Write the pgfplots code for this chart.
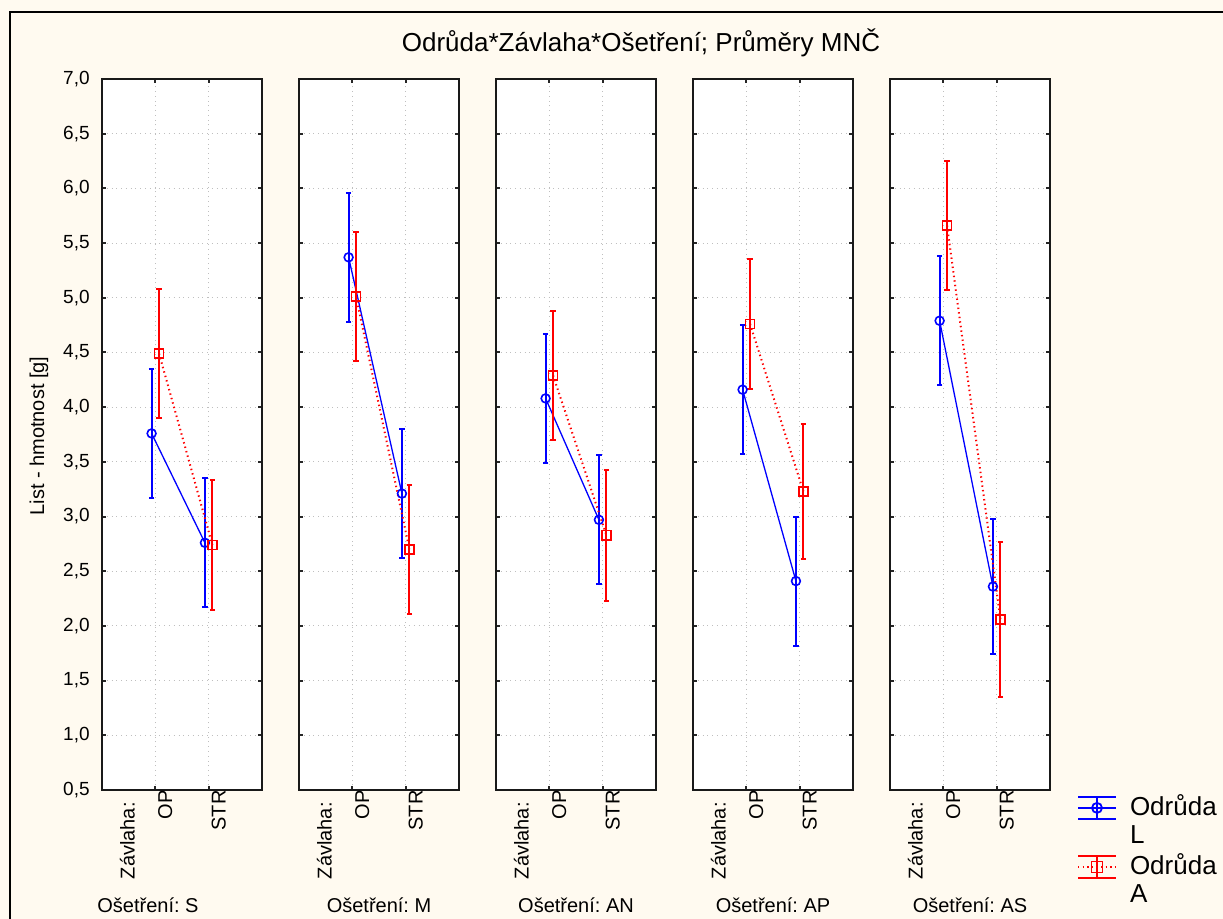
\documentclass[border=0pt]{standalone}
\usepackage{pgfplots}
\pgfplotsset{compat=1.18}
\usepackage{fontspec}
\setmainfont{Liberation Sans}
\frenchspacing
\definecolor{paper}{HTML}{FFFAF0}
\definecolor{colL}{HTML}{0000FF}
\definecolor{colA}{HTML}{FF0000}
\newcommand\fs[2]{\fontsize{#1bp}{#2bp}\selectfont}

\pgfplotsset{
  panel/.style={
    scale only axis, width=80bp, height=355.5bp,
    anchor=south west,
    xmin=0, xmax=3, ymin=0.5, ymax=7,
    xtick={1,2}, xticklabels={OP,STR},
    ytick={0.5,1.0,1.5,2.0,2.5,3.0,3.5,4.0,4.5,5.0,5.5,6.0,6.5,7.0},
    tick pos=both, xticklabel pos=lower, yticklabel pos=left,
    grid=major,
    major grid style={dotted, black!25, line width=0.5bp},
    axis line style={black!90, line width=1bp},
    every tick/.style={black!85, line width=1bp},
    major tick length=2.2bp,
    tick align=inside,
    axis background/.style={fill=white},
    xticklabel style={rotate=90, anchor=east, inner sep=0pt, yshift=-5bp, font=\fs{10}{12}},
    clip=false,
  },
  nolab/.style={yticklabels={}},
  serL/.style={colL, line width=0.65bp, mark=o, mark size=2.2bp,
    mark options={solid, line width=0.8bp},
    error bars/y dir=both, error bars/y explicit,
    error bars/error bar style={solid, line width=1bp},
    error bars/error mark options={rotate=90, solid, line width=1bp, mark size=1.4bp}},
  serA/.style={colA, line width=1bp, dash pattern=on 0.7bp off 1.6bp,
    mark=square, mark size=2.3bp,
    mark options={solid, line width=0.8bp},
    error bars/y dir=both, error bars/y explicit,
    error bars/error bar style={solid, line width=1bp},
    error bars/error mark options={rotate=90, solid, line width=1bp, mark size=1.4bp}},
}

\begin{document}
\begin{tikzpicture}
\fill[paper] (0,0) rectangle (611.5bp,459.5bp);
\useasboundingbox (0,0) rectangle (611.5bp,459.5bp);
\draw[black, line width=1bp] (5bp,0) -- (5bp,453.5bp) -- (611.5bp,453.5bp);
\node[anchor=base, font=\fs{13}{15.6}] at (320.5bp,433.5bp) {Odrůda*Závlaha*Ošetření; Průměry MNČ};
\node[rotate=90, font=\fs{10}{12}] at (19.5bp,241.5bp) {List - hmotnost [g]};

\node[anchor=base, font=\fs{10}{12}] at (74bp,3.5bp) {Ošetření: S};
\node[anchor=base, font=\fs{10}{12}] at (189.5bp,3.5bp) {Ošetření: M};
\node[anchor=base, font=\fs{10}{12}] at (288bp,3.5bp) {Ošetření: AN};
\node[anchor=base, font=\fs{10}{12}] at (386.5bp,3.5bp) {Ošetření: AP};
\node[anchor=base, font=\fs{10}{12}] at (485bp,3.5bp) {Ošetření: AS};

% panel 1: S
\begin{axis}[panel, at={(51bp,64.5bp)},
  yticklabel style={font=\fs{9.5}{11}, inner sep=0pt, xshift=-6bp,
    /pgf/number format/.cd, fixed, fixed zerofill, precision=1, use comma, assume math mode=true}]
\addplot[serL] table[x=x, y=y, y error=e] {
x y e
0.93 3.76 0.59
1.93 2.76 0.59
};
\addplot[serA] table[x=x, y=y, y error=e] {
x y e
1.07 4.49 0.59
2.07 2.74 0.59
};
\node[rotate=90, anchor=east, inner sep=0pt, font=\fs{10}{12}] at ([xshift=-14bp, yshift=-6bp]axis description cs:0.3333,0) {Závlaha:};
\end{axis}

% panel 2: M
\begin{axis}[panel, nolab, at={(149.5bp,64.5bp)}]
\addplot[serL] table[x=x, y=y, y error=e] {
x y e
0.93 5.37 0.59
1.93 3.21 0.59
};
\addplot[serA] table[x=x, y=y, y error=e] {
x y e
1.07 5.01 0.59
2.07 2.70 0.59
};
\node[rotate=90, anchor=east, inner sep=0pt, font=\fs{10}{12}] at ([xshift=-14bp, yshift=-6bp]axis description cs:0.3333,0) {Závlaha:};
\end{axis}

% panel 3: AN
\begin{axis}[panel, nolab, at={(248bp,64.5bp)}]
\addplot[serL] table[x=x, y=y, y error=e] {
x y e
0.93 4.08 0.59
1.93 2.97 0.59
};
\addplot[serA] table[x=x, y=y, y error=e] {
x y e
1.07 4.29 0.59
2.07 2.83 0.60
};
\node[rotate=90, anchor=east, inner sep=0pt, font=\fs{10}{12}] at ([xshift=-14bp, yshift=-6bp]axis description cs:0.3333,0) {Závlaha:};
\end{axis}

% panel 4: AP
\begin{axis}[panel, nolab, at={(346.5bp,64.5bp)}]
\addplot[serL] table[x=x, y=y, y error=e] {
x y e
0.93 4.16 0.59
1.93 2.41 0.59
};
\addplot[serA] table[x=x, y=y, y error=e] {
x y e
1.07 4.76 0.59
2.07 3.23 0.62
};
\node[rotate=90, anchor=east, inner sep=0pt, font=\fs{10}{12}] at ([xshift=-14bp, yshift=-6bp]axis description cs:0.3333,0) {Závlaha:};
\end{axis}

% panel 5: AS, with legend
\begin{axis}[panel, nolab, at={(445bp,64.5bp)},
  legend style={at={(1,0)}, anchor=north west, xshift=13.5bp, yshift=-3bp,
    draw=none, fill=none, inner sep=0pt, outer sep=0pt,
    row sep=17.7bp, column sep=6.5bp, nodes={inner sep=0pt},
    font=\fs{13}{14}},
  legend cell align=left]
\addplot[serL, forget plot] table[x=x, y=y, y error=e] {
x y e
0.93 4.79 0.59
1.93 2.36 0.62
};
\addplot[serA, forget plot] table[x=x, y=y, y error=e] {
x y e
1.07 5.66 0.59
2.07 2.06 0.71
};
\node[rotate=90, anchor=east, inner sep=0pt, font=\fs{10}{12}] at ([xshift=-14bp, yshift=-6bp]axis description cs:0.3333,0) {Závlaha:};
\addlegendimage{legend image code/.code={
  \draw[colL, solid, line width=0.9bp] (0bp,10bp) -- (19bp,10bp) (0bp,-1bp) -- (19bp,-1bp)
    (9.5bp,10bp) -- (9.5bp,-1bp) (0bp,4.5bp) -- (19bp,4.5bp);
  \draw[colL, solid, line width=0.9bp] (9.5bp,4.5bp) circle (2.5bp);
}}
\addlegendentry{\smash{\begin{tabular}[t]{@{}l@{}}Odrůda\\L\end{tabular}}}
\addlegendimage{legend image code/.code={
  \draw[colA, solid, line width=0.9bp] (0bp,10bp) -- (19bp,10bp) (0bp,-1bp) -- (19bp,-1bp)
    (9.5bp,10bp) -- (9.5bp,-1bp);
  \draw[colA, line width=1bp, dash pattern=on 0.7bp off 1.6bp] (0bp,4.5bp) -- (19bp,4.5bp);
  \draw[colA, solid, line width=0.9bp] (6.75bp,1.75bp) rectangle (12.25bp,7.25bp);
}}
\addlegendentry{\smash{\begin{tabular}[t]{@{}l@{}}Odrůda\\A\end{tabular}}}
\end{axis}
\end{tikzpicture}
\end{document}
